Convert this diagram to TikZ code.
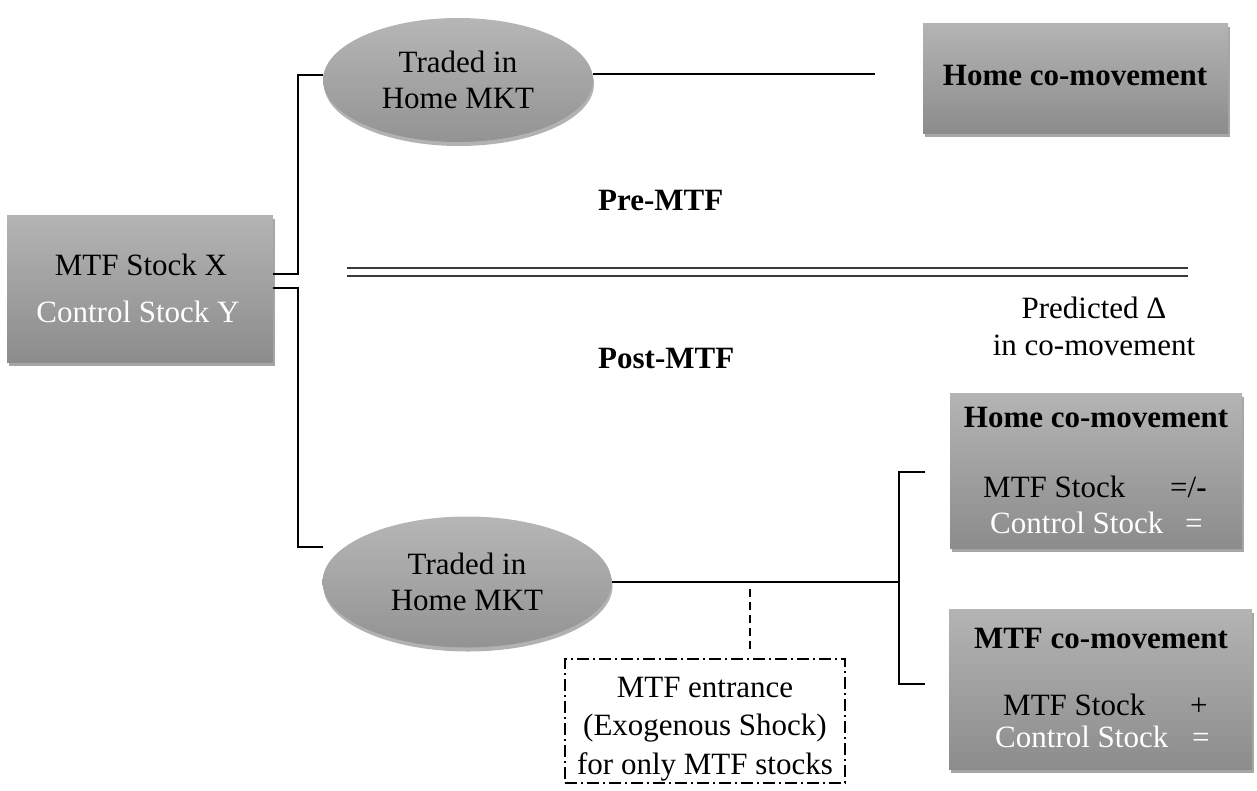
\documentclass[tikz,border=0pt]{standalone}
\usepackage{fontspec}
\setmainfont{Liberation Serif}
\usetikzlibrary{shapes.geometric,shadows}
\definecolor{gtop}{HTML}{B4B4B4}
\definecolor{gbot}{HTML}{8C8C8C}
\definecolor{etop}{HTML}{B6B6B6}
\definecolor{ebot}{HTML}{939393}
\definecolor{dline}{HTML}{3A3A3A}
\begin{document}
\begin{tikzpicture}[x=1pt,y=-1pt,
  font=\fontsize{31}{36}\selectfont,
  gbox/.style={rectangle, draw=none, inner sep=0pt, top color=gtop, bottom color=gbot,
    drop shadow={shadow xshift=1.5pt, shadow yshift=-4pt, opacity=0.35, fill=black}},
  gell/.style={ellipse, draw=none, inner sep=0pt, top color=etop, bottom color=ebot, align=center,
    drop shadow={shadow xshift=1pt, shadow yshift=-4pt, opacity=0.3, fill=black}},
  conn/.style={line width=2.5pt, black},
  dashconn/.style={line width=2.5pt, black, dash pattern=on 8pt off 5pt},
  shockbox/.style={draw=black, line width=1.3pt, dash pattern=on 12pt off 4pt on 2pt off 4pt, inner sep=0pt},
  txt/.style={anchor=base, inner sep=0pt},
  wtxt/.style={anchor=base west, inner sep=0pt},
  hd/.style={font=\fontsize{31}{36}\selectfont\bfseries}
]
\useasboundingbox (0,0) rectangle (1257,790);

% source box
\node[gbox, minimum width=266pt, minimum height=147pt] (src) at (140,288.5) {};
\node[txt] (srcA) at (141,275) {MTF Stock X};
\node[txt, text=white] (srcB) at (138,322) {Control Stock Y};

% ellipses
\node[gell, minimum width=270pt, minimum height=124pt] (pre) at (458,80) {Traded in\\Home MKT};
\node[gell, minimum width=289pt, minimum height=131pt] (post) at (467,582) {Traded in\\Home MKT};

% top right box
\node[gbox, minimum width=305pt, minimum height=110pt] (homeA) at (1075.5,78) {};
\node[txt, hd] (homeAt) at (1075,85) {Home co-movement};

% box 2
\node[gbox, minimum width=292pt, minimum height=155pt] (homeB) at (1096,470.5) {};
\node[txt, hd] (homeBt) at (1096,427) {Home co-movement};
\node[wtxt] (hbA) at (983,497) {MTF Stock};
\node[wtxt] (hbAs) at (1170,497) {=/\textbf{-}};
\node[wtxt, text=white] (hbB) at (990,533) {Control Stock};
\node[wtxt, text=white] (hbBs) at (1185,533) {=};

% box 3
\node[gbox, minimum width=303pt, minimum height=160pt] (mtfB) at (1100.5,689) {};
\node[txt, hd] (mtfBt) at (1101,648) {MTF co-movement};
\node[wtxt] (mbA) at (1003,715) {MTF Stock};
\node[wtxt] (mbAs) at (1190,715) {+};
\node[wtxt, text=white] (mbB) at (995,747) {Control Stock};
\node[wtxt, text=white] (mbBs) at (1192,747) {=};

% labels
\node[wtxt, hd] (preL) at (598,210) {Pre-MTF};
\node[wtxt, hd] (postL) at (598,368) {Post-MTF};
\node[txt] (predA) at (1094,318) {Predicted Δ};
\node[txt] (predB) at (1094,355) {in co-movement};

% double separator
\coordinate (sepL) at (347,268);
\coordinate (sepR) at (1188,268);
\draw[dline, line width=1.6pt] (sepL) -- (sepR);
\draw[dline, line width=1.6pt] ([yshift=-8pt]sepL) -- ([yshift=-8pt]sepR);

% shock box
\node[shockbox, minimum width=280pt, minimum height=124pt] (shock) at (705,721) {};
\node[align=center, inner sep=0pt, font=\fontsize{31}{38.5}\selectfont] (shockT) at (705,729) {MTF entrance\\(Exogenous Shock)\\for only MTF stocks};

% connectors
\coordinate (jx) at (298,0);
\coordinate (preIn) at (323,75);
\coordinate (postIn) at (323,547);
\coordinate (preOut) at (875,74);
\coordinate (brT) at (925,472);
\coordinate (brB) at (925,684);
\coordinate (brX) at (899,0);
\coordinate (dashTop) at (750,589);
\coordinate (dashBot) at (750,652);

\draw[conn] ([yshift=14.5pt]src.east) -| (jx |- preIn) -- (preIn);
\draw[conn] ([yshift=0.5pt]src.east) -| (jx |- postIn) -- (postIn);
\draw[conn] (pre.east |- preOut) -- (preOut);
\draw[conn] (post.east) -- (brX |- post.east);
\draw[conn] (brT) -- (brX |- brT) -- (brX |- brB) -- (brB);
\draw[dashconn] (dashTop) -- (dashBot);
\end{tikzpicture}
\end{document}
